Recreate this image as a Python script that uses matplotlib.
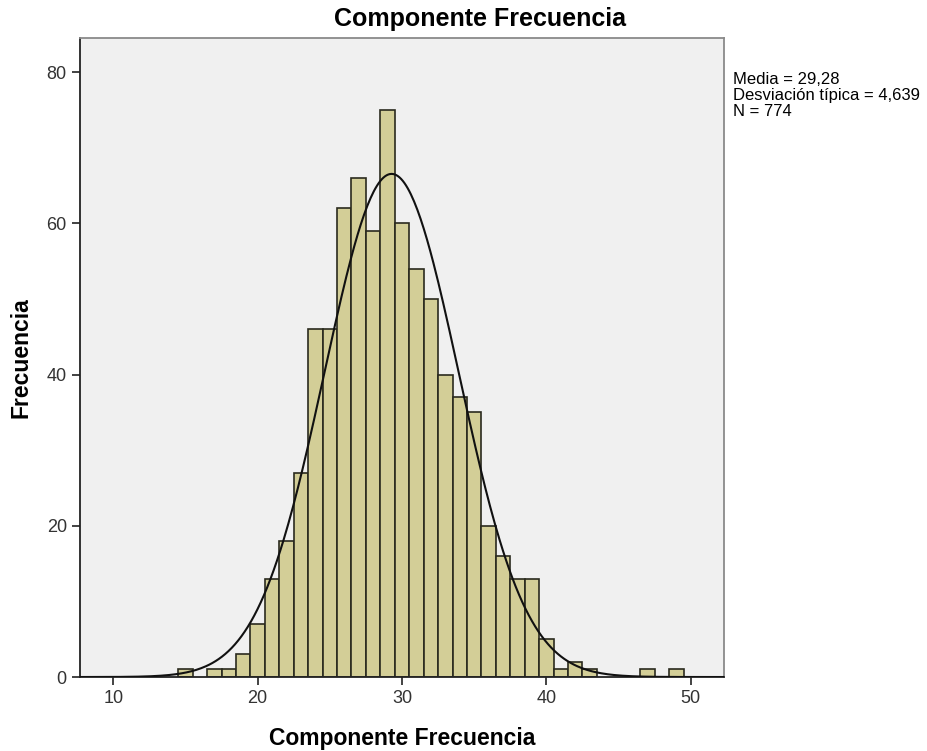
import numpy as np
import matplotlib
matplotlib.use("Agg")
import matplotlib.pyplot as plt

plt.rcParams['font.family'] = ['Liberation Sans', 'DejaVu Sans']

# Bin centres (width 1) and counts
centros = [15, 16, 17, 18, 19, 20, 21, 22, 23, 24, 25, 26, 27, 28, 29, 30, 31, 32,
           33, 34, 35, 36, 37, 38, 39, 40, 41, 42, 43, 44, 45, 46, 47, 48, 49]
frecuencias = [1, 0, 1, 1, 3, 7, 13, 18, 27, 46, 46, 62, 66, 59, 75, 60, 54, 50,
               40, 37, 35, 20, 16, 13, 13, 5, 1, 2, 1, 0, 0, 0, 1, 0, 1]

media = 29.28
desv = 4.639
n = 774
ancho = 1.0

fig = plt.figure(figsize=(9.27, 7.51), dpi=100)
ax = fig.add_axes([0.0863, 0.0985, 0.6947, 0.8505])
ax.set_facecolor('#f0f0f0')

centros_arr = np.array(centros)
frec_arr = np.array(frecuencias)
mask = frec_arr > 0
ax.bar(centros_arr[mask], frec_arr[mask], width=ancho, color='#d3ce97',
       edgecolor='#2a2a1e', linewidth=1.2, zorder=2)

# Normal curve scaled to counts
xs = np.linspace(7.7, 52.3, 400)
ys = n * ancho / (desv * np.sqrt(2 * np.pi)) * np.exp(-0.5 * ((xs - media) / desv) ** 2)
ax.plot(xs, ys, color='#111111', linewidth=1.5, zorder=3)

ax.set_xlim(7.7, 52.3)
ax.set_ylim(0, 84.5)
ax.set_xticks([10, 20, 30, 40, 50])
ax.set_yticks([0, 20, 40, 60, 80])
ax.tick_params(direction='out', length=6, width=1.2, labelsize=13, colors='#222222',
               labelcolor='#333333')

for lado in ['left', 'bottom']:
    ax.spines[lado].set_color('#222222')
    ax.spines[lado].set_linewidth(1.3)
for lado in ['top', 'right']:
    ax.spines[lado].set_color('#8a8a8a')
    ax.spines[lado].set_linewidth(1.3)

# SPSS centres the title over the whole chart area, not the plot frame
fig.text(480 / 927, 1 - 19 / 751, 'Componente Frecuencia', fontsize=18,
         fontweight='bold', ha='center', va='center')
ax.set_xlabel('Componente Frecuencia', fontsize=16.5, fontweight='bold', labelpad=14)
ax.set_ylabel('Frecuencia', fontsize=16.5, fontweight='bold', labelpad=10)

fig.text(733 / 927, 1 - 72 / 751,
         'Media = 29,28\nDesviación típica = 4,639\nN = 774',
         fontsize=12, va='top', ha='left', linespacing=1.1)

fig.savefig('out.png', dpi=100)
